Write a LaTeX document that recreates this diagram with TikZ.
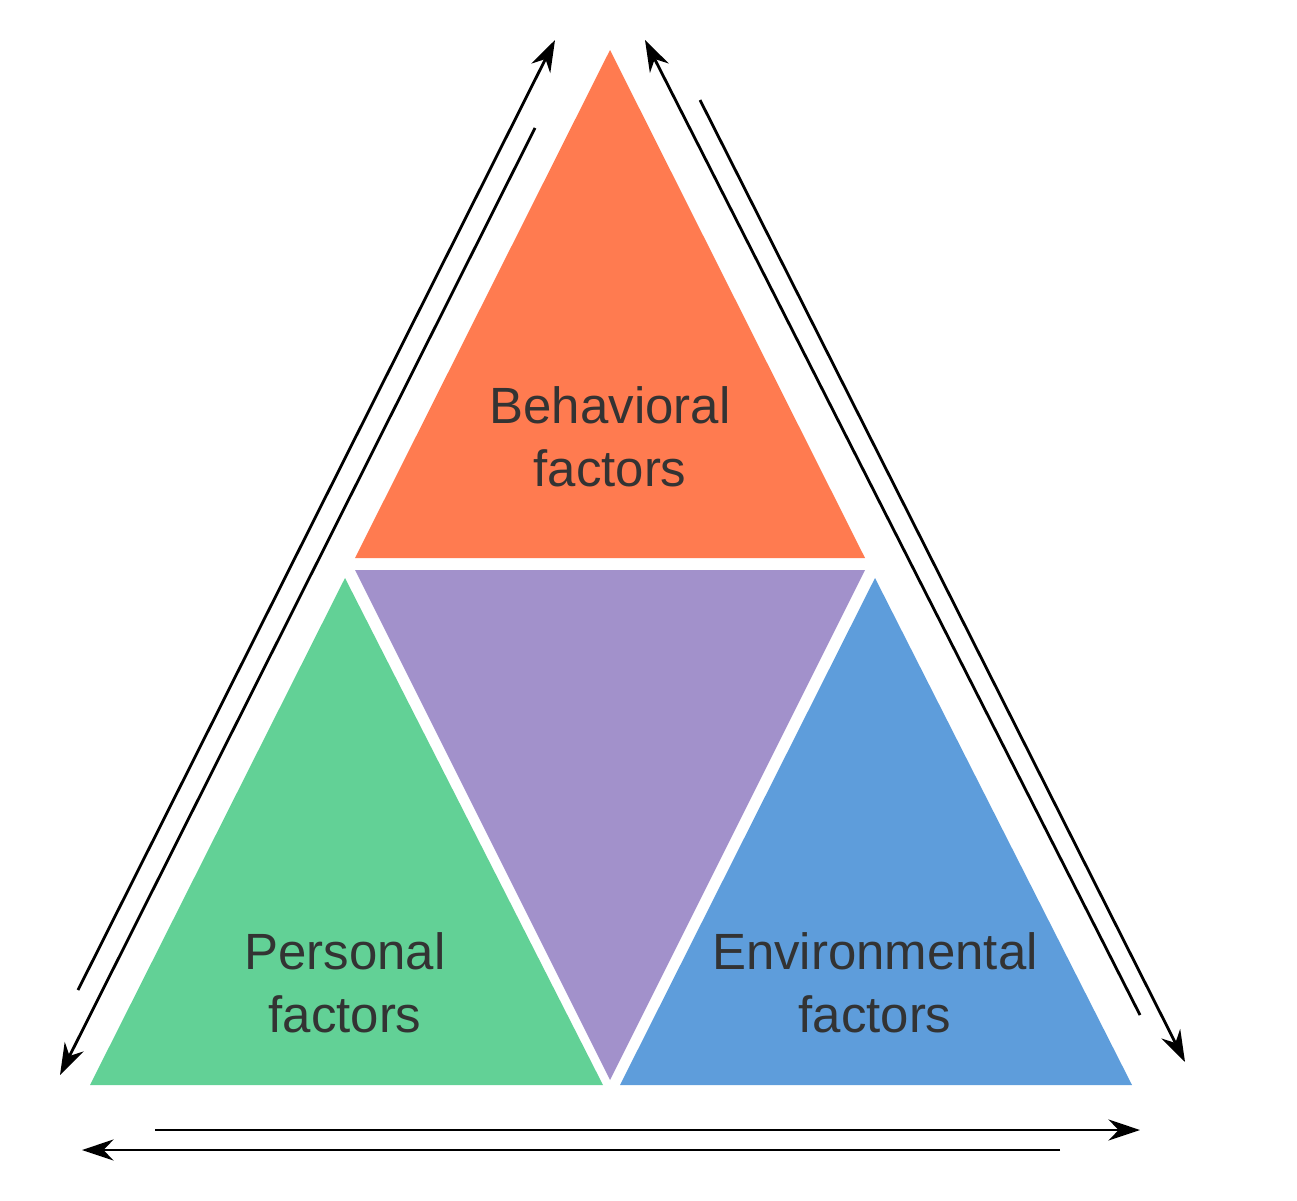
\documentclass[tikz,border=0pt]{standalone}
\usepackage{fontspec}
\setmainfont{Liberation Sans}
\usetikzlibrary{arrows.meta}
\definecolor{cOr}{HTML}{FF7B50}
\definecolor{cPu}{HTML}{A291CB}
\definecolor{cGr}{HTML}{62D196}
\definecolor{cBl}{HTML}{5E9DDB}
\definecolor{cTx}{HTML}{333333}
\tikzset{lab/.style={align=center,text=cTx,font=\fontsize{29}{36}\selectfont},
 arr/.style={line width=1.6pt,-{Stealth[length=18pt,width=12pt]}}}
\begin{document}
\begin{tikzpicture}[x=0.02cm,y=-0.02cm]
\useasboundingbox (0,0) rectangle (1297,1200);
\fill[cOr] (610,50) -- (865,558) -- (355,558) -- cycle;
\fill[cPu] (355,570) -- (865,570) -- (610,1080) -- cycle;
\fill[cGr] (345,578) -- (603,1085) -- (90,1085) -- cycle;
\fill[cBl] (875,578) -- (1132,1085) -- (620,1085) -- cycle;
\node[lab] (b) at (610,437) {Behavioral\\factors};
\node[lab] (p) at (345,983) {Personal\\factors};
\node[lab] (e) at (875,983) {Environmental\\factors};
\coordinate (l1s) at (78,990); \coordinate (l1e) at (555,40);
\coordinate (l2s) at (535,128); \coordinate (l2e) at (60,1075);
\coordinate (r1s) at (1140,1015); \coordinate (r1e) at (645,40);
\coordinate (r2s) at (700,100); \coordinate (r2e) at (1185,1062);
\coordinate (b1s) at (155,1130); \coordinate (b1e) at (1140,1130);
\coordinate (b2s) at (1060,1150); \coordinate (b2e) at (82,1150);
\draw[arr] (l1s) -- (l1e);
\draw[arr] (l2s) -- (l2e);
\draw[arr] (r1s) -- (r1e);
\draw[arr] (r2s) -- (r2e);
\draw[arr] (b1s) -- (b1e);
\draw[arr] (b2s) -- (b2e);
\end{tikzpicture}
\end{document}
